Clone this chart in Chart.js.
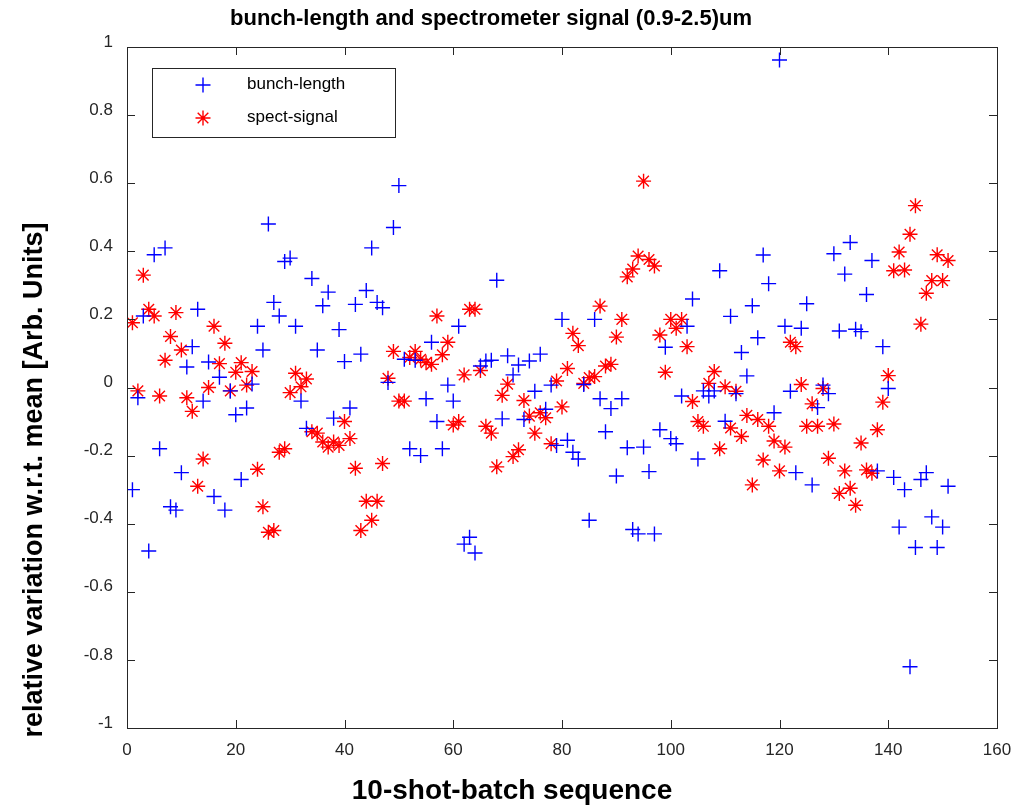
<!DOCTYPE html>
<html>
<head>
<meta charset="utf-8">
<title>bunch-length and spectrometer signal (0.9-2.5)um</title>
<script src="https://cdn.jsdelivr.net/npm/chart.js@4.4.1/dist/chart.umd.min.js"></script>
<style>
    html, body { margin: 0; padding: 0; background: #ffffff; }
    #wrap { width: 1029px; height: 808px; }
</style>
</head>
<body>
<div id="wrap"><canvas id="bunchChart" width="1029" height="808"></canvas></div>
<script>
/**
 * bunch-length / spectrometer signal scatter (MATLAB style figure)
 */

// relative variation of the bunch length, one value per 10-shot batch
const bunchLength = [
    -0.30, -0.03, 0.21, -0.48, 0.39, -0.18, 0.41, -0.35, -0.36, -0.25,
    0.06, 0.12, 0.23, -0.04, 0.075, -0.32, 0.03, -0.36, -0.01, -0.08,
    -0.27, -0.06, 0.01, 0.18, 0.11, 0.48, 0.25, 0.21, 0.37, 0.38,
    0.18, -0.04, -0.12, 0.32, 0.11, 0.24, 0.28, -0.09, 0.17, 0.076,
    -0.06, 0.244, 0.098, 0.285, 0.41, 0.25, 0.234, 0.015, 0.47, 0.593,
    0.083, -0.18, 0.08, -0.20, -0.033, 0.133, -0.10, -0.18, 0.007, -0.04,
    0.18, -0.46, -0.44, -0.486, 0.063, 0.078, 0.08, 0.315, -0.092, 0.093,
    0.037, 0.066, -0.094, 0.078, -0.011, 0.098, -0.064, 0.007, -0.17, 0.20,
    -0.155, -0.19, -0.21, 0.009, -0.39, 0.20, -0.033, -0.13, -0.062, -0.26,
    -0.033, -0.177, -0.417, -0.43, -0.175, -0.247, -0.43, -0.124, 0.118, -0.15,
    -0.165, -0.025, 0.18, 0.26, -0.21, -0.01, -0.025, -0.01, 0.343, -0.099,
    0.209, -0.018, 0.103, 0.034, 0.24, 0.146, 0.389, 0.305, -0.074, 0.962,
    0.18, -0.011, -0.25, 0.174, 0.246, -0.286, -0.059, 0.007, -0.018, 0.393,
    0.166, 0.333, 0.426, 0.171, 0.164, 0.273, 0.373, -0.245, 0.12, -0.003,
    -0.264, -0.41, -0.30, -0.82, -0.47, -0.27, -0.25, -0.38, -0.47, -0.41,
    -0.29
];

// relative variation of the spectrometer signal (0.9-2.5 um)
const spectSignal = [
    0.19, -0.01, 0.33, 0.23, 0.21, -0.025, 0.08, 0.15, 0.22, 0.11,
    -0.03, -0.07, -0.29, -0.21, 0.0, 0.18, 0.07, 0.13, -0.01, 0.045,
    0.073, 0.007, 0.047, -0.24, -0.35, -0.425, -0.42, -0.19, -0.18, -0.015,
    0.042, 0.002, 0.025, -0.13, -0.134, -0.16, -0.175, -0.16, -0.17, -0.10,
    -0.15, -0.237, -0.42, -0.334, -0.39, -0.334, -0.223, 0.027, 0.106, -0.04,
    -0.04, 0.088, 0.106, 0.083, 0.073, 0.068, 0.21, 0.096, 0.133, -0.11,
    -0.10, 0.037, 0.23, 0.23, 0.05, -0.114, -0.134, -0.233, -0.023, 0.01,
    -0.203, -0.183, -0.038, -0.084, -0.134, -0.074, -0.089, -0.165, 0.019, -0.057,
    0.056, 0.159, 0.123, 0.012, 0.029, 0.032, 0.239, 0.063, 0.068, 0.148,
    0.20, 0.325, 0.348, 0.386, 0.606, 0.376, 0.357, 0.154, 0.045, 0.20,
    0.174, 0.20, 0.12, -0.041, -0.10, -0.114, 0.012, 0.047, -0.18, 0.002,
    -0.119, -0.011, -0.144, -0.082, -0.286, -0.094, -0.213, -0.114, -0.157, -0.245,
    -0.175, 0.133, 0.12, 0.009, -0.114, -0.048, -0.114, -0.003, -0.208, -0.107,
    -0.311, -0.245, -0.296, -0.346, -0.163, -0.242, -0.252, -0.124, -0.043, 0.035,
    0.343, 0.398, 0.345, 0.45, 0.534, 0.186, 0.277, 0.314, 0.39, 0.314,
    0.373
];

// axis tick labels
const xTickLabels = ['0', '20', '40', '60', '80', '100', '120', '140', '160'];
const yTickLabels = ['-1', '-0.8', '-0.6', '-0.4', '-0.2', '0', '0.2', '0.4', '0.6', '0.8', '1'];

const seriesNames = ['bunch-length', 'spect-signal'];

const FONT = '"Liberation Sans", Arial, Helvetica, sans-serif';
const AXIS_COLOR = '#262626';
const TICK_LEN = 8;

// batch sequence number = position in the list (1, 2, 3 ...)
function toPoints(values) {
    return values.map((v, i) => ({ x: i + 1, y: v }));
}

// MATLAB-like box with inward ticks on all four sides
const boxAxes = {
    id: 'boxAxes',
    afterDraw(chart) {
        const { ctx, chartArea: a, scales } = chart;
        ctx.save();
        ctx.strokeStyle = AXIS_COLOR;
        ctx.lineWidth = 1;
        ctx.strokeRect(a.left + 0.5, a.top + 0.5, a.right - a.left, a.bottom - a.top);
        ctx.beginPath();
        scales.x.ticks.forEach(t => {
            const px = Math.round(scales.x.getPixelForValue(t.value)) + 0.5;
            ctx.moveTo(px, a.bottom);
            ctx.lineTo(px, a.bottom - TICK_LEN);
            ctx.moveTo(px, a.top);
            ctx.lineTo(px, a.top + TICK_LEN);
        });
        scales.y.ticks.forEach(t => {
            const py = Math.round(scales.y.getPixelForValue(t.value)) + 0.5;
            ctx.moveTo(a.left, py);
            ctx.lineTo(a.left + TICK_LEN, py);
            ctx.moveTo(a.right, py);
            ctx.lineTo(a.right - TICK_LEN, py);
        });
        ctx.stroke();
        ctx.restore();
    }
};

// title, axis labels and the boxed legend
const figureText = {
    id: 'figureText',
    afterDraw(chart) {
        const { ctx } = chart;
        ctx.save();
        ctx.fillStyle = '#000000';
        ctx.textAlign = 'center';
        ctx.textBaseline = 'middle';

        ctx.font = 'bold 22px ' + FONT;
        ctx.fillText('bunch-length and spectrometer signal (0.9-2.5)um', 491, 19);

        ctx.font = 'bold 28px ' + FONT;
        ctx.fillText('10-shot-batch sequence', 512, 791);

        ctx.save();
        ctx.translate(35, 480);
        ctx.rotate(-Math.PI / 2);
        ctx.font = 'bold 27px ' + FONT;
        ctx.fillText('relative variation w.r.t. mean [Arb. Units]', 0, 0);
        ctx.restore();

        // legend
        const lx = 152, ly = 68, lw = 243, lh = 69;
        ctx.fillStyle = '#ffffff';
        ctx.fillRect(lx, ly, lw, lh);
        ctx.strokeStyle = AXIS_COLOR;
        ctx.lineWidth = 1;
        ctx.strokeRect(lx + 0.5, ly + 0.5, lw, lh);

        ctx.fillStyle = '#000000';
        ctx.textAlign = 'left';
        ctx.font = '17px ' + FONT;
        chart.data.datasets.forEach((ds, i) => {
            const cy = ly + 17 + i * 33;
            const cx = lx + 51;
            const r = 7.5;
            ctx.strokeStyle = ds.borderColor;
            ctx.lineWidth = 1.4;
            ctx.beginPath();
            ctx.moveTo(cx - r, cy); ctx.lineTo(cx + r, cy);
            ctx.moveTo(cx, cy - r); ctx.lineTo(cx, cy + r);
            if (ds.pointStyle === 'star') {
                const d = r * Math.SQRT1_2;
                ctx.moveTo(cx - d, cy - d); ctx.lineTo(cx + d, cy + d);
                ctx.moveTo(cx - d, cy + d); ctx.lineTo(cx + d, cy - d);
            }
            ctx.stroke();
            ctx.fillText(ds.label, lx + 95, cy - 1);
        });
        ctx.restore();
    }
};

new Chart(document.getElementById('bunchChart'), {
    type: 'scatter',
    data: {
        datasets: [
            {
                label: seriesNames[0],
                data: toPoints(bunchLength),
                pointStyle: 'cross',
                pointRadius: 7.5,
                pointHoverRadius: 7.5,
                borderColor: '#0000ff',
                backgroundColor: '#0000ff',
                borderWidth: 1.4
            },
            {
                label: seriesNames[1],
                data: toPoints(spectSignal),
                pointStyle: 'star',
                pointRadius: 7.5,
                pointHoverRadius: 7.5,
                borderColor: '#ff0000',
                backgroundColor: '#ff0000',
                borderWidth: 1.4
            }
        ]
    },
    options: {
        responsive: false,
        animation: false,
        events: [],
        layout: { padding: { top: 47, right: 32, left: 0, bottom: 0 } },
        plugins: {
            legend: { display: false },
            tooltip: { enabled: false },
            title: { display: false }
        },
        scales: {
            x: {
                type: 'linear',
                min: 0,
                max: 160,
                grid: { display: false, drawTicks: false },
                border: { display: false },
                afterFit: scale => { scale.height = 80; },
                afterBuildTicks: scale => {
                    scale.ticks = xTickLabels.map(s => ({ value: Number(s) }));
                },
                ticks: {
                    padding: 12,
                    color: '#262626',
                    font: { family: FONT, size: 17 },
                    callback: v => xTickLabels.find(s => Number(s) === v)
                }
            },
            y: {
                type: 'linear',
                min: -1,
                max: 1,
                grid: { display: false, drawTicks: false },
                border: { display: false },
                afterFit: scale => { scale.width = 127; },
                afterBuildTicks: scale => {
                    scale.ticks = yTickLabels.map(s => ({ value: Number(s) }));
                },
                ticks: {
                    padding: 14,
                    labelOffset: -5,
                    color: '#262626',
                    font: { family: FONT, size: 17 },
                    callback: v => yTickLabels.find(s => Math.abs(Number(s) - v) < 1e-9)
                }
            }
        }
    },
    plugins: [boxAxes, figureText]
});
</script>
</body>
</html>
